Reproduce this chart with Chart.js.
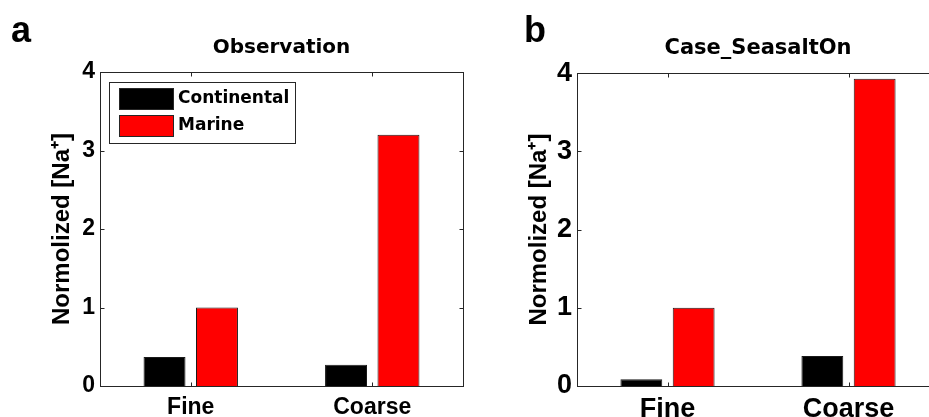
<!DOCTYPE html>
<html>
<head>
<meta charset="utf-8">
<script src="https://cdn.jsdelivr.net/npm/chart.js@4.4.1/dist/chart.umd.min.js"></script>
<style>
  html, body { margin: 0; padding: 0; background: #fff; overflow: hidden; width: 929px; height: 417px; }
  #panel-a { position: absolute; left: 0; top: 0; }
  #panel-b { position: absolute; left: 470px; top: 0; }
</style>
</head>
<body>
<canvas id="panel-a" width="470" height="417"></canvas>
<canvas id="panel-b" width="480" height="417"></canvas>
<script>
// categories and series
const sizeClasses = ['Fine', 'Coarse'];
const seriesNames = ['Continental', 'Marine'];
const seriesColors = ['#000000', '#ff0000'];
const yTickValues = [0, 1, 2, 3, 4];

// panel a: observation
const obsContinental = [0.37, 0.27];
const obsMarine = [1.0, 3.2];

// panel b: model run with sea salt on
const seasaltContinental = [0.085, 0.385];
const seasaltMarine = [1.0, 3.93];

const ARIAL = '"Liberation Sans", Arial, sans-serif';
const TITLE_FONT = '"DejaVu Sans", Verdana, sans-serif';
const AXIS_COLOR = '#262626';

/* ── panel letter (a / b) ── */
const panelLetterPlugin = {
  id: 'panelLetter',
  afterDraw(chart, args, opts) {
    if (!opts.text) return;
    const ctx = chart.ctx;
    ctx.save();
    ctx.font = 'bold 36px ' + ARIAL;
    ctx.fillStyle = '#000';
    ctx.textBaseline = 'alphabetic';
    ctx.fillText(opts.text, opts.x, opts.y);
    ctx.restore();
  }
};

/* ── matlab-style box with inward ticks ── */
const axisBoxPlugin = {
  id: 'axisBox',
  afterDatasetsDraw(chart) {
    const ctx = chart.ctx;
    const a = chart.chartArea;
    const xs = chart.scales.x;
    const ys = chart.scales.y;
    const len = 4;
    const l = Math.round(a.left) + 0.5;
    const r = Math.round(a.right) + 0.5;
    const t = Math.round(a.top) + 0.5;
    const b = Math.round(a.bottom) + 0.5;
    ctx.save();
    ctx.strokeStyle = AXIS_COLOR;
    ctx.lineWidth = 1;
    ctx.strokeRect(l, t, r - l, b - t);
    ctx.beginPath();
    ys.ticks.forEach(function (tk) {
      const y = Math.round(ys.getPixelForValue(tk.value)) + 0.5;
      ctx.moveTo(l, y); ctx.lineTo(l + len, y);
      ctx.moveTo(r, y); ctx.lineTo(r - len, y);
    });
    xs.ticks.forEach(function (tk, i) {
      const x = Math.round(xs.getPixelForTick(i)) + 0.5;
      ctx.moveTo(x, b); ctx.lineTo(x, b - len);
      ctx.moveTo(x, t); ctx.lineTo(x, t + len);
    });
    ctx.stroke();
    ctx.restore();
  }
};

/* ── boxed legend inside the axes ── */
const boxLegendPlugin = {
  id: 'boxLegend',
  afterDraw(chart, args, opts) {
    if (!opts.display) return;
    const ctx = chart.ctx;
    const a = chart.chartArea;
    const x0 = Math.round(a.left) + 9;
    const y0 = Math.round(a.top) + 10;
    ctx.save();
    ctx.fillStyle = '#fff';
    ctx.fillRect(x0, y0, 186, 61);
    ctx.strokeStyle = AXIS_COLOR;
    ctx.lineWidth = 1;
    ctx.strokeRect(x0 + 0.5, y0 + 0.5, 186, 61);
    ctx.font = 'bold 17px ' + TITLE_FONT;
    ctx.textBaseline = 'middle';
    chart.data.datasets.forEach(function (ds, i) {
      const sy = y0 + 6 + i * 27;
      ctx.fillStyle = ds.backgroundColor;
      ctx.fillRect(x0 + 10, sy, 54, 21);
      ctx.strokeStyle = AXIS_COLOR;
      ctx.strokeRect(x0 + 10.5, sy + 0.5, 54, 21);
      ctx.fillStyle = '#000';
      ctx.fillText(ds.label, x0 + 69, sy + 11);
    });
    ctx.restore();
  }
};

function buildPanel(canvasId, cfg) {
  const datasets = [cfg.continental, cfg.marine].map(function (values, i) {
    return {
      label: seriesNames[i],
      data: values,
      backgroundColor: seriesColors[i],
      borderColor: '#1a1a1a',
      borderWidth: 1,
      categoryPercentage: 0.578,
      barPercentage: 0.8
    };
  });

  return new Chart(document.getElementById(canvasId), {
    type: 'bar',
    data: { labels: sizeClasses, datasets: datasets },
    plugins: [panelLetterPlugin, axisBoxPlugin, boxLegendPlugin],
    options: {
      responsive: false,
      animation: false,
      layout: { padding: { left: 0, right: cfg.padRight, top: 0, bottom: 0 } },
      plugins: {
        legend: { display: false },
        tooltip: { enabled: false },
        title: {
          display: true,
          fullSize: false,
          text: cfg.title,
          color: '#000',
          font: { family: TITLE_FONT, size: cfg.titleSize, weight: 'bold' },
          padding: { top: 36, bottom: 12 }
        },
        panelLetter: { text: cfg.letter, x: cfg.letterX, y: 42 },
        boxLegend: { display: cfg.showLegend }
      },
      scales: {
        x: {
          grid: { display: false, drawTicks: false },
          border: { display: false },
          ticks: {
            color: '#000',
            padding: cfg.xTickPad,
            font: { family: ARIAL, size: cfg.tickSize, weight: 'bold' }
          },
          afterFit: function (scale) { scale.height = 31; }
        },
        y: {
          min: 0,
          max: 4,
          afterBuildTicks: function (scale) {
            scale.ticks = yTickValues.map(function (v) { return { value: v }; });
          },
          grid: { display: false, drawTicks: false },
          border: { display: false },
          ticks: {
            color: '#000',
            padding: 5,
            font: { family: ARIAL, size: cfg.tickSize, weight: 'bold' }
          },
          title: {
            display: true,
            text: 'Normolized [Na\u207A]',
            color: '#000',
            font: { family: ARIAL, size: 24, weight: 'bold' },
            padding: { top: cfg.yTitlePad, bottom: 0 }
          },
          afterFit: function (scale) { scale.width = cfg.yWidth; }
        }
      }
    }
  });
}

buildPanel('panel-a', {
  title: 'Observation',
  titleSize: 20,
  letter: 'a',
  letterX: 11,
  continental: obsContinental,
  marine: obsMarine,
  showLegend: true,
  tickSize: 23,
  xTickPad: 8,
  yWidth: 100,
  yTitlePad: 48,
  padRight: 7
});

buildPanel('panel-b', {
  title: 'Case_SeasaltOn',
  titleSize: 21,
  letter: 'b',
  letterX: 54,
  continental: seasaltContinental,
  marine: seasaltMarine,
  showLegend: false,
  tickSize: 27,
  xTickPad: 7,
  yWidth: 107,
  yTitlePad: 55,
  padRight: 11
});
</script>
</body>
</html>
